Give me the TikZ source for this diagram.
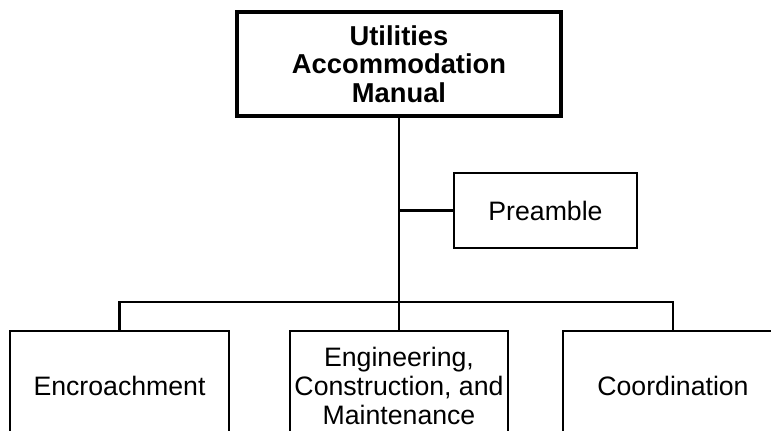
\documentclass[tikz,border=0pt]{standalone}
\usepackage{fontspec}
\setmainfont{Liberation Sans}
\begin{document}
\begin{tikzpicture}[x=0.75pt,y=-0.75pt,
  box/.style={draw=black, line width=1.7pt, rectangle, align=center, inner sep=0pt,
    font=\fontsize{20}{21.75}\selectfont},
  topbox/.style={box, line width=2.3pt, font=\fontsize{20.5}{21.5}\selectfont\bfseries},
  link/.style={draw=black, line width=1.7pt},
  trunk/.style={draw=black, line width=2.1pt}]
\path[use as bounding box, clip] (0,0) rectangle (771,430);
\node[topbox, minimum width=324*0.75pt, minimum height=104*0.75pt] (top) at (399,64)
  {Utilities\\Accommodation\\Manual};
\node[box, minimum width=183*0.75pt, minimum height=75*0.75pt] (pre) at (545.5,210.5) {Preamble};
\node[box, minimum width=219*0.75pt, minimum height=110*0.75pt] (enc) at (119.5,386) {Encroachment};
\node[box, minimum width=218*0.75pt, minimum height=110*0.75pt] (eng) at (399,386)
  {Engineering,\\Construction, and\\Maintenance};
\node[box, minimum width=220*0.75pt, minimum height=110*0.75pt] (coo) at (673,386) {Coordination};
\coordinate (j) at (399,302);
\draw[trunk] (top.south) -- (j);
\draw[link] (top.south |- pre.west) -- (pre.west);
\draw[link] (enc.north) |- (j) -| (coo.north);
\draw[link] (j) -- (eng.north);
\end{tikzpicture}
\end{document}
